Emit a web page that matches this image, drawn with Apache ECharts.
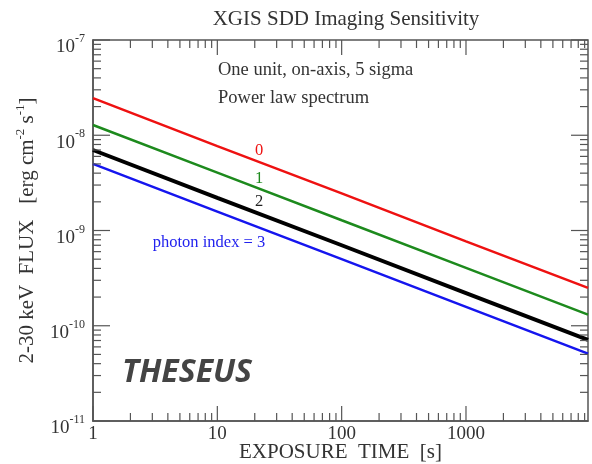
<!DOCTYPE html>
<html><head><meta charset="utf-8">
<script src="https://cdn.jsdelivr.net/npm/echarts@6/dist/echarts.min.js"></script>
<style>html,body{margin:0;padding:0;background:#fff}#c{width:592px;height:464px}</style>
</head><body><div id="c"></div>
<script>
// Exposure time [s]
const exposure = [1, 10, 100, 1000, 9580];
// 2-30 keV flux sensitivity [erg cm^-2 s^-1], by photon index
const flux_index0 = [2.45e-8, 7.7e-9, 2.45e-9, 7.7e-10, 2.5e-10];
const flux_index1 = [1.28e-8, 4.05e-9, 1.28e-9, 4.05e-10, 1.31e-10];
const flux_index2 = [7.0e-9, 2.2e-9, 7.0e-10, 2.2e-10, 7.1e-11];
const flux_index3 = [5.0e-9, 1.58e-9, 5.0e-10, 1.58e-10, 5.1e-11];
// axis ticks
const xMajor = [1, 10, 100, 1000];
const xMinor = [2,3,4,5,6,7,8,9,20,30,40,50,60,70,80,90,200,300,400,500,600,700,800,900,2000,3000,4000,5000,6000,7000,8000,9000];
const yMajor = [1e-11, 1e-10, 1e-9, 1e-8, 1e-7];
const yMinor = [];
[-11,-10,-9,-8].forEach(e => { for (let m = 2; m <= 9; m++) yMinor.push(m * Math.pow(10, e)); });

const SERIF = '"Liberation Serif","DejaVu Serif",serif';
const AX = '#555';
const TXT = '#333';

const chart = echarts.init(document.getElementById('c'), null, {renderer: 'canvas'});

function pair(xs, ys) { return xs.map((x, i) => [x, ys[i]]); }

const tickData = [];
xMajor.forEach(v => tickData.push({value: [v, 1e-9, 0, 15]}));
xMinor.forEach(v => tickData.push({value: [v, 1e-9, 0, 8]}));
yMajor.forEach(v => tickData.push({value: [10, v, 1, 17]}));
yMinor.forEach(v => tickData.push({value: [10, v, 1, 8]}));

const option = {
  backgroundColor: '#fff',
  animation: false,
  title: {
    text: 'XGIS SDD Imaging Sensitivity',
    left: 341, top: 4, textAlign: 'center',
    textStyle: {fontFamily: SERIF, fontSize: 21, fontWeight: 'normal', color: TXT}
  },
  grid: {left: 93, right: 4, top: 40, bottom: 43, outerBoundsMode: 'none', containLabel: false,
         show: true, borderColor: AX, borderWidth: 1.5, backgroundColor: 'transparent'},
  xAxis: {
    type: 'log', logBase: 10, min: 1, max: 9580,
    axisLine: {show: true, lineStyle: {color: AX, width: 1.5}},
    axisTick: {show: false},
    splitLine: {show: false},
    axisLabel: {
      fontFamily: SERIF, fontSize: 19, color: TXT, margin: 4,
      showMaxLabel: false,
      formatter: v => (xMajor.indexOf(Math.round(v)) >= 0 ? String(Math.round(v)) : '')
    },
    name: 'EXPOSURE  TIME  [s]', nameLocation: 'middle', nameGap: 21, nameMoveOverlap: false,
    nameTextStyle: {fontFamily: SERIF, fontSize: 21, color: TXT}
  },
  yAxis: {
    type: 'log', logBase: 10, min: 1e-11, max: 1e-7,
    axisLine: {show: true, lineStyle: {color: AX, width: 1.5}},
    axisTick: {show: false},
    splitLine: {show: false},
    axisLabel: {
      margin: 8, color: TXT, padding: [10, 0, 0, 0],
      formatter: v => '{b|10}{s|' + Math.round(Math.log10(v)) + '}',
      rich: {
        b: {fontFamily: SERIF, fontSize: 19, color: TXT, verticalAlign: 'bottom', lineHeight: 24},
        s: {fontFamily: SERIF, fontSize: 12, color: TXT, verticalAlign: 'top', lineHeight: 24, padding: [0,0,12,0]}
      }
    },
    name: '2-30 keV  FLUX   [erg cm{s|-2} s{s|-1}]', nameLocation: 'middle', nameGap: 53, nameRotate: 90,
    nameTextStyle: {
      fontFamily: SERIF, fontSize: 21, color: TXT,
      rich: {s: {fontFamily: SERIF, fontSize: 13, color: TXT, padding: [0,0,13,0]}}
    }
  },
  graphic: [
    {type: 'text', left: 218, top: 61, style: {text: 'One unit, on-axis, 5 sigma', font: '18.5px ' + SERIF, fill: TXT}},
    {type: 'text', left: 218, top: 89, style: {text: 'Power law spectrum', font: '18.5px ' + SERIF, fill: TXT}},
    {type: 'text', x: 259, y: 151, style: {text: '0', font: '16.5px ' + SERIF, fill: '#ee1111', align: 'center', verticalAlign: 'middle'}},
    {type: 'text', x: 259, y: 179, style: {text: '1', font: '16.5px ' + SERIF, fill: '#1d8a1d', align: 'center', verticalAlign: 'middle'}},
    {type: 'text', x: 259, y: 202, style: {text: '2', font: '16.5px ' + SERIF, fill: '#222', align: 'center', verticalAlign: 'middle'}},
    {type: 'text', x: 209, y: 243, style: {text: 'photon index = 3', font: '16.5px ' + SERIF, fill: '#2222ee', align: 'center', verticalAlign: 'middle'}},
    {type: 'text', x: 187, y: 373, style: {text: 'THESEUS', font: 'italic bold 32px "Open Sans","Noto Sans",sans-serif', fill: '#444', align: 'center', verticalAlign: 'middle'}}
  ],
  series: [
    {type: 'line', data: pair(exposure, flux_index0), showSymbol: false, lineStyle: {color: '#ee1111', width: 2.5}, z: 3},
    {type: 'line', data: pair(exposure, flux_index1), showSymbol: false, lineStyle: {color: '#1d8a1d', width: 2.5}, z: 3},
    {type: 'line', data: pair(exposure, flux_index2), showSymbol: false, lineStyle: {color: '#000', width: 4}, z: 3},
    {type: 'line', data: pair(exposure, flux_index3), showSymbol: false, lineStyle: {color: '#1515ee', width: 2.5}, z: 3},
    {
      type: 'custom', silent: true, z: 4, clip: false,
      data: tickData,
      renderItem: function (params, api) {
        const cs = params.coordSys;
        const kind = api.value(2), len = api.value(3);
        const style = {stroke: AX, lineWidth: 1.2};
        if (kind === 0) {
          const px = api.coord([api.value(0), 1e-9])[0];
          const b = cs.y + cs.height, t = cs.y;
          return {type: 'group', children: [
            {type: 'line', shape: {x1: px, y1: b, x2: px, y2: b - len}, style: style},
            {type: 'line', shape: {x1: px, y1: t, x2: px, y2: t + len}, style: style}
          ]};
        } else {
          const py = api.coord([10, api.value(1)])[1];
          const l = cs.x, r = cs.x + cs.width;
          return {type: 'group', children: [
            {type: 'line', shape: {x1: l, y1: py, x2: l + len, y2: py}, style: style},
            {type: 'line', shape: {x1: r, y1: py, x2: r - len, y2: py}, style: style}
          ]};
        }
      }
    }
  ]
};
chart.setOption(option);
</script>
</body></html>
